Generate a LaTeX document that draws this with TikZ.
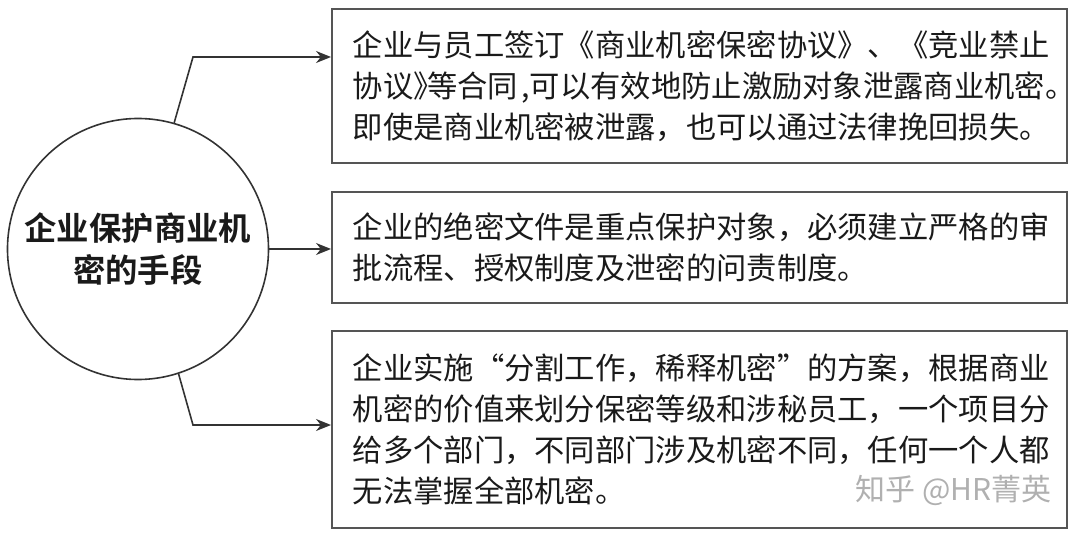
\documentclass[tikz,border=0pt]{standalone}
\usepackage{fontspec}
\usetikzlibrary{arrows.meta}
\newfontfamily\cjk{Noto Sans CJK SC}
\newfontfamily\cjkbold{Noto Sans CJK SC Bold}
\definecolor{linec}{HTML}{333333}
\definecolor{boxc}{HTML}{555555}
\definecolor{txtc}{HTML}{1A1A1A}
\definecolor{wmc}{HTML}{B0B0B0}
\tikzset{
  textbox/.style={draw=boxc, line width=1.6pt, anchor=north west, align=left,
    text width=693pt, inner xsep=21pt, inner ysep=0pt, minimum width=735pt,
    text=txtc, font=\cjk\fontsize{30.3}{41}\selectfont},
  hub/.style={circle, draw=linec, line width=1.6pt, minimum size=261pt, inner sep=0pt,
    align=center, text=txtc, font=\cjkbold\fontsize{32.4}{42}\selectfont},
  conn/.style={draw=linec, line width=1.6pt, -{Stealth[length=15pt,width=12pt]}},
}
\begin{document}
\begin{tikzpicture}[x=1pt,y=-1pt]
\useasboundingbox (0,0) rectangle (1080,540);
\node[hub] (c) at (138,249) {企业保护商业机\\密的手段};
\node[textbox, minimum height=154pt] (b1) at (331,8)
  {企业与员工签订《商业机密保密协议》、《竞业禁止\\协议\makebox[0.45em][l]{》}等合同\hspace{0.12em},可以有效地防止激励对象泄露商业机密。\\即使是商业机密被泄露，也可以通过法律挽回损失。};
\node[textbox, minimum height=111pt] (b2) at (331,191)
  {企业的绝密文件是重点保护对象，必须建立严格的审\\批流程、授权制度及泄密的问责制度。};
\node[textbox, minimum height=197pt] (b3) at (331,330)
  {企业实施“分割工作，稀释机密”的方案，根据商业\\机密的价值来划分保密等级和涉秘员工，一个项目分\\给多个部门，不同部门涉及机密不同，任何一个人都\\无法掌握全部机密。};
\node[anchor=east, text=wmc, font=\cjk\fontsize{30}{36}\selectfont, inner sep=0pt] (wm) at (1052,490) {知乎 @HR菁英};
\coordinate (k1) at (193,57);
\coordinate (e1) at (331,57);
\coordinate (k3) at (193,425);
\coordinate (e3) at (331,425);
\draw[conn] (c.74.5) -- (k1) -- (e1);
\draw[conn] (c.east) -- (c.east -| b2.west);
\draw[conn] (c.-72.6) -- (k3) -- (e3);
\end{tikzpicture}
\end{document}
